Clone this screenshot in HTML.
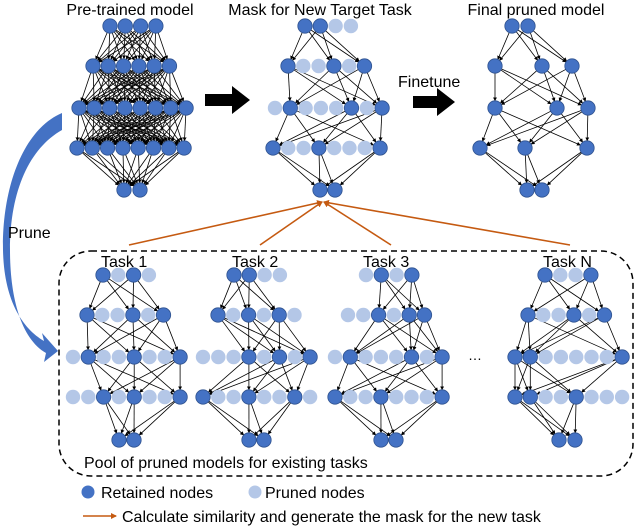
<!DOCTYPE html>
<html><head><meta charset="utf-8"><style>
body{margin:0;background:#fff}
svg{display:block;font-family:"Liberation Sans",sans-serif}
</style></head><body>
<svg id="s" width="640" height="529" viewBox="0 0 640 529" xmlns="http://www.w3.org/2000/svg">
<defs>
<marker id="a" markerWidth="4" markerHeight="4" refX="3.5" refY="2" orient="auto" markerUnits="userSpaceOnUse"><path d="M0,0L4,2L0,4z" fill="#000"/></marker>
<marker id="o" markerWidth="6" markerHeight="6" refX="5" refY="3" orient="auto" markerUnits="userSpaceOnUse"><path d="M0,0L6,3L0,6z" fill="#C55A11"/></marker>
</defs>
<g id="edges" stroke="#000" stroke-width="0.8"></g>
<g id="nodes"></g>
<text x="130" y="15" font-size="16" text-anchor="middle">Pre-trained model</text>
<text x="320" y="15" font-size="16" text-anchor="middle">Mask for New Target Task</text>
<text x="536" y="15" font-size="16" text-anchor="middle">Final pruned model</text>
<text x="398" y="87" font-size="16">Finetune</text>
<path d="M205,94h27v-8l18,14l-18,14v-8h-27z" fill="#000"/>
<path d="M413,96h24v-8l18,14l-18,14v-8h-24z" fill="#000"/>
<path d="M62,113 C22,130 2,190 3,250 C4,300 22,328 44,341 L42,333 L58,351 L44,362 L46,353 C20,338 10,295 10,250 C10,190 30,148 62,130 Z" fill="#4472C4"/>
<text x="8" y="238" font-size="16">Prune</text>
<rect x="59" y="251" width="574" height="225" rx="32" fill="none" stroke="#000" stroke-width="1.5" stroke-dasharray="6,4"/>
<text x="101" y="267" font-size="16">Task 1</text>
<text x="232" y="267" font-size="16">Task 2</text>
<text x="363" y="267" font-size="16">Task 3</text>
<text x="543" y="267" font-size="16">Task N</text>
<text x="468" y="360" font-size="14">…</text>
<g stroke="#C55A11" stroke-width="1.6" fill="none" marker-end="url(#o)">
<line x1="129" y1="245" x2="322" y2="202"/>
<line x1="260" y1="245" x2="322" y2="202"/>
<line x1="391" y1="245" x2="324" y2="202"/>
<line x1="570" y1="245" x2="324" y2="202"/>
</g>
<text x="84" y="468" font-size="16">Pool of pruned models for existing tasks</text>
<circle cx="88" cy="492" r="6.5" fill="#4472C4"/>
<text x="101" y="498" font-size="16">Retained nodes</text>
<circle cx="255" cy="492" r="6.5" fill="#B4C7E7"/>
<text x="265" y="498" font-size="16">Pruned nodes</text>
<line x1="83" y1="516" x2="116" y2="516" stroke="#C55A11" stroke-width="1.6" marker-end="url(#o)"/>
<text x="122" y="522" font-size="16">Calculate similarity and generate the mask for the new task</text>
</svg>
<script>
var NS="http://www.w3.org/2000/svg",E=document.getElementById("edges"),N=document.getElementById("nodes");
var R=7.2;
function net(ys,rows){
 var B=rows.map(function(r){var xs=r[0],b=r[1];return xs.map(function(x,i){return {x:x,b:b?b.indexOf(i)>=0:true};});});
 for(var k=0;k<B.length-1;k++){
  B[k].forEach(function(p){if(!p.b)return;B[k+1].forEach(function(q){if(!q.b)return;
   var l=document.createElementNS(NS,"line");
   var dx=q.x-p.x,dy=ys[k+1]-ys[k],d=Math.sqrt(dx*dx+dy*dy);
   l.setAttribute("x1",p.x+dx/d*R);l.setAttribute("y1",ys[k]+dy/d*R);
   l.setAttribute("x2",q.x-dx/d*R);l.setAttribute("y2",ys[k+1]-dy/d*R);
   l.setAttribute("marker-end","url(#a)");E.appendChild(l);});});
 }
 B.forEach(function(r,k){r.forEach(function(p){var c=document.createElementNS(NS,"circle");
  c.setAttribute("cx",p.x);c.setAttribute("cy",ys[k]);c.setAttribute("r",R);
  c.setAttribute("fill",p.b?"#4472C4":"#B4C7E7");if(p.b){c.setAttribute("stroke","#2F528F");c.setAttribute("stroke-width","0.8");}
  N.appendChild(c);});});
}
function seq(s,n,st){st=st||15.3;var a=[];for(var i=0;i<n;i++)a.push(Math.round((s+i*st)*10)/10);return a;}
var Y=[26,66,108,148,190];
net(Y,[[seq(110,4)],[seq(93,6)],[seq(79,8)],[seq(77,8)],[[124,140]]]);
net(Y,[[seq(305,4),[0,1]],[seq(288,6),[0,3,5]],[seq(275,8),[1,5,7]],[seq(273,8),[0,3,7]],[[320,335]]]);
net(Y,[[[512,528]],[[495,542,572]],[[495,557,588]],[[480,525,587]],[[527,542]]]);
var T=[275,315,357,397,440];
net(T,[[seq(103,4),[0,2]],[seq(87,6),[0,3,5]],[seq(73,8),[1,4,7]],[seq(73,8),[2,4,7]],[[119,134]]]);
net(T,[[seq(234,4),[0,1]],[seq(218,6),[0,2,4]],[seq(203,8),[3,5,7]],[seq(203,8),[0,3,6]],[[249,264]]]);
net(T,[[seq(366,4),[1,3]],[seq(348,6),[2,4,5]],[seq(335,8),[1,5,7]],[seq(335,8),[0,3,7]],[[381,396]]]);
net(T,[[seq(545,4),[0,3]],[seq(528,6),[0,3,5]],[seq(515,8),[0,1,7]],[seq(515,8),[0,1,4]],[[559,575]]]);
</script>
</body></html>
